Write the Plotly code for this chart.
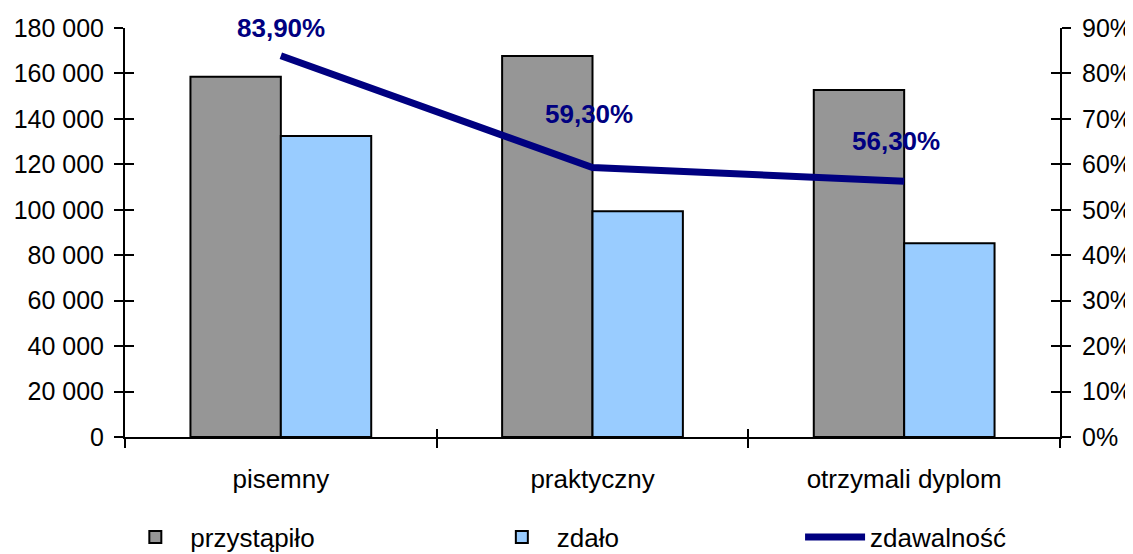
import plotly.graph_objects as go

categories = ["pisemny", "praktyczny", "otrzymali dyplom"]
przystapilo = [158500, 167700, 152700]
zdalo = [132500, 99300, 85300]
zdawalnosc = [0.839, 0.593, 0.563]

label_yshift = [28, 54, 40]
label_xshift = [0, -4, -8]

FONT = "Liberation Sans, Arial, sans-serif"
NAVY = "#000080"

fig = go.Figure()
fig.add_trace(go.Bar(x=categories, y=przystapilo, name="przystąpiło",
                     marker=dict(color="#969696", line=dict(color="black", width=2)),
                     legend="legend"))
fig.add_trace(go.Bar(x=categories, y=zdalo, name="zdało",
                     marker=dict(color="#99CCFF", line=dict(color="black", width=2)),
                     legend="legend2"))
fig.add_trace(go.Scatter(x=categories, y=zdawalnosc, name="zdawalność", yaxis="y2",
                         mode="lines", line=dict(color=NAVY, width=7),
                         legend="legend3"))
# invisible helper traces so overlay axes (inside tick halves) are drawn
fig.add_trace(go.Scatter(x=categories, y=przystapilo, xaxis="x3", yaxis="y3",
                         mode="markers", marker=dict(opacity=0), showlegend=False,
                         hoverinfo="skip"))
fig.add_trace(go.Scatter(x=categories, y=zdawalnosc, xaxis="x3", yaxis="y4",
                         mode="markers", marker=dict(opacity=0), showlegend=False,
                         hoverinfo="skip"))

for i, (c, v) in enumerate(zip(categories, zdawalnosc)):
    fig.add_annotation(x=c, y=v, xref="x", yref="y2",
                       text=f"{v*100:.2f}%".replace(".", ","),
                       showarrow=False, yshift=label_yshift[i], xshift=label_xshift[i],
                       font=dict(family=FONT, size=26, color=NAVY, weight="bold"))

tickfont = dict(family=FONT, size=25, color="black")
catfont = dict(family=FONT, size=26, color="black")
axline = dict(showline=True, linecolor="black", linewidth=2, showgrid=False,
              zeroline=False, automargin=False)
hidden = dict(showticklabels=False, showline=False, showgrid=False, zeroline=False,
              ticks="inside", tickwidth=2, tickcolor="black", automargin=False)

legfont = dict(family=FONT, size=26, color="black")
LEG_Y = -0.245

fig.update_layout(
    width=1125, height=546,
    margin=dict(l=117, r=73, t=20, b=117, autoexpand=False),
    paper_bgcolor="white", plot_bgcolor="white",
    separators=", ",
    barmode="group", bargap=0.42, bargroupgap=0,
    font=dict(family=FONT, size=25, color="black"),
    xaxis=dict(type="category", categoryarray=categories, tickson="boundaries",
               ticks="outside", ticklen=9, tickwidth=2, tickcolor="black",
               tickfont=catfont, ticklabelstandoff=18, range=[-0.5, 2.5], **axline),
    yaxis=dict(range=[0, 180000], dtick=20000, tickformat=",d",
               ticks="outside", ticklen=9, tickwidth=2, tickcolor="black",
               tickfont=tickfont, ticklabelstandoff=5, **axline),
    yaxis2=dict(range=[0, 0.9], dtick=0.1, tickformat=".0%", overlaying="y", side="right",
                ticks="outside", ticklen=9, tickwidth=2, tickcolor="black",
                tickfont=tickfont, ticklabelstandoff=6, **axline),
    xaxis3=dict(type="category", categoryarray=categories, tickson="boundaries",
                overlaying="x", anchor="y3", range=[-0.5, 2.5], ticklen=8, **hidden),
    yaxis3=dict(range=[0, 180000], dtick=20000, overlaying="y", anchor="x3", side="left",
                ticklen=9, **hidden),
    yaxis4=dict(range=[0, 0.9], dtick=0.1, overlaying="y", anchor="x3", side="right",
                ticklen=9, **hidden),
    legend=dict(x=-0.005, y=LEG_Y, xanchor="left", yanchor="middle", orientation="h",
                font=legfont, itemwidth=60, bgcolor="rgba(0,0,0,0)"),
    legend2=dict(x=0.387, y=LEG_Y, xanchor="left", yanchor="middle", orientation="h",
                 font=legfont, itemwidth=60, bgcolor="rgba(0,0,0,0)"),
    legend3=dict(x=0.722, y=LEG_Y, xanchor="left", yanchor="middle", orientation="h",
                 font=legfont, itemwidth=60, bgcolor="rgba(0,0,0,0)"),
    showlegend=True,
)

fig.write_html("out.html")
